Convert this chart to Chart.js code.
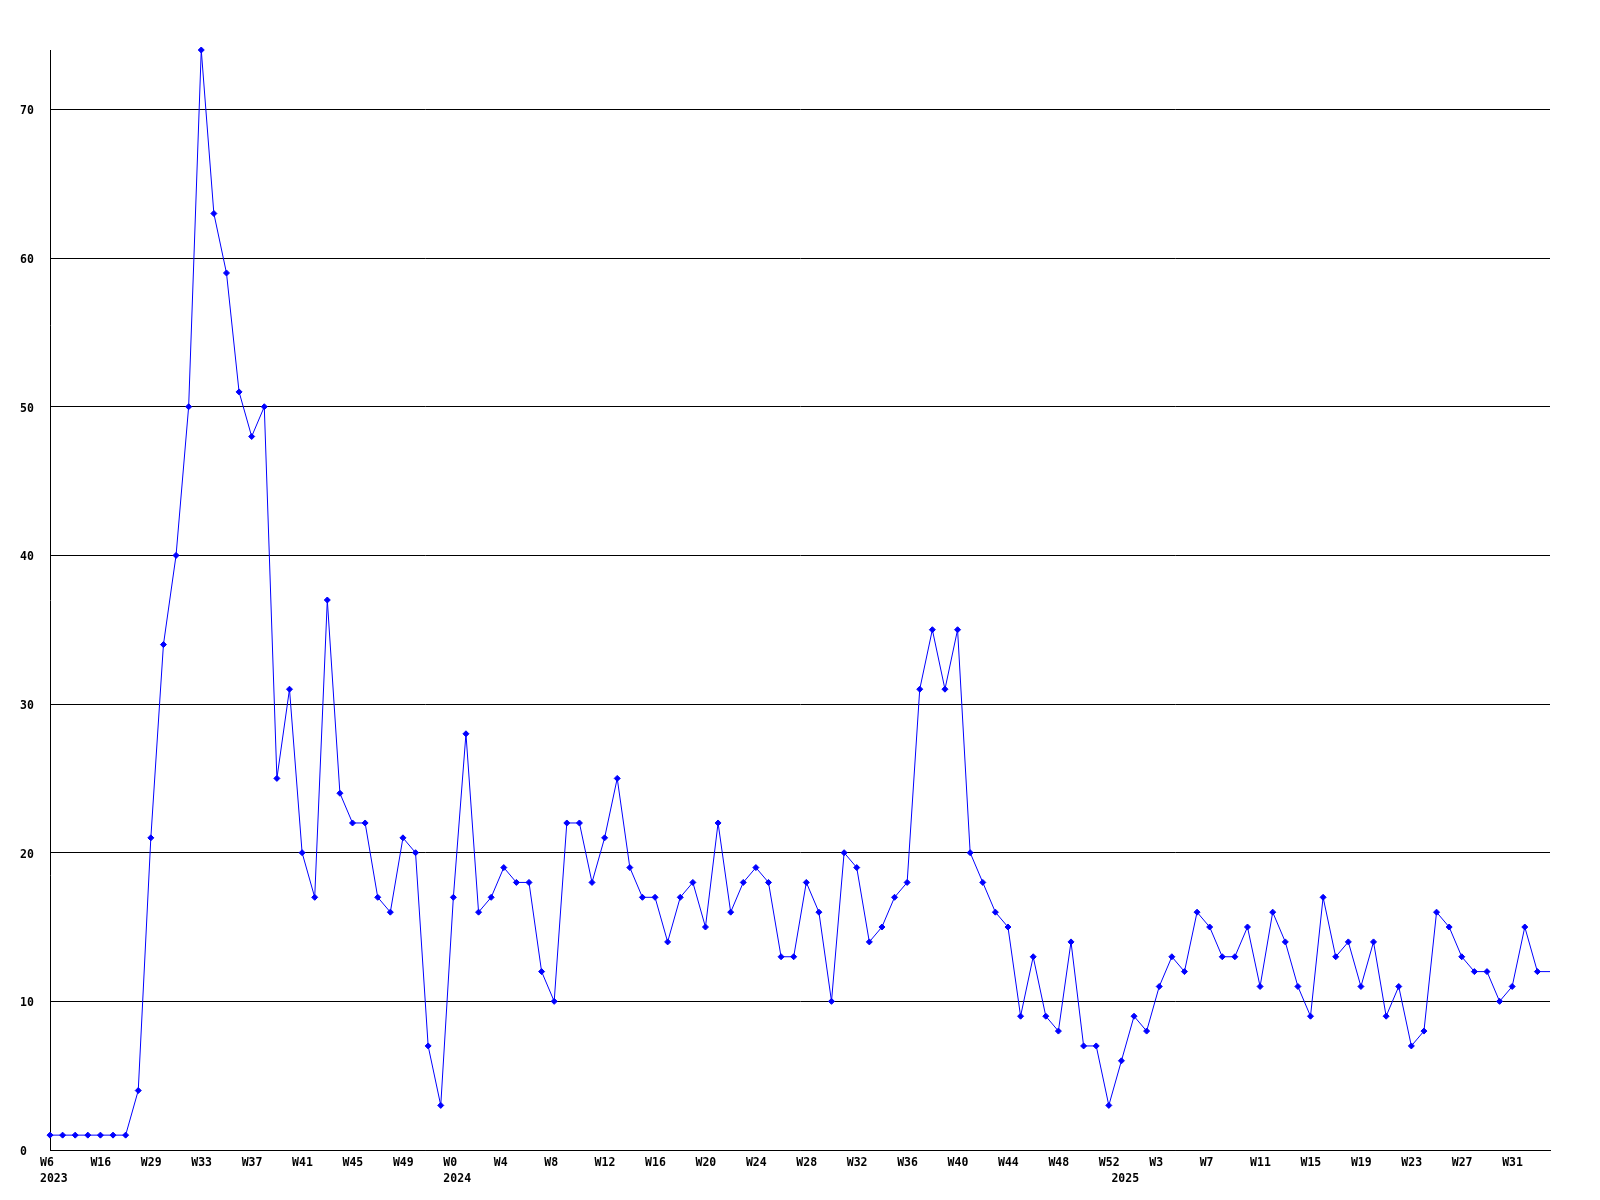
<!DOCTYPE html>
<html>
<head>
<meta charset="utf-8">
<script src="https://cdn.jsdelivr.net/npm/chart.js@4/dist/chart.umd.min.js"></script>
<style>
  html, body { margin: 0; padding: 0; background: #fff; }
  #chart { display: block; }
</style>
</head>
<body>
<canvas id="chart" width="1600" height="1200"></canvas>
<script>
// week labels, one per point
const weeks2023 = ['W6', 'W8', 'W11', 'W13', 'W16', 'W20', 'W24', 'W28',
  'W29', 'W30', 'W31', 'W32', 'W33', 'W34', 'W35', 'W36', 'W37', 'W38', 'W39', 'W40',
  'W41', 'W42', 'W43', 'W44', 'W45', 'W46', 'W47', 'W48', 'W49', 'W50', 'W51', 'W52'];
const weeks2024 = ['W0', 'W1', 'W2', 'W3', 'W4', 'W5', 'W6', 'W7', 'W8', 'W9', 'W10',
  'W11', 'W12', 'W13', 'W14', 'W15', 'W16', 'W17', 'W18', 'W19', 'W20', 'W21', 'W22',
  'W23', 'W24', 'W25', 'W26', 'W27', 'W28', 'W29', 'W30', 'W31', 'W32', 'W33', 'W34',
  'W35', 'W36', 'W37', 'W38', 'W39', 'W40', 'W41', 'W42', 'W43', 'W44', 'W45', 'W46',
  'W47', 'W48', 'W49', 'W50', 'W51', 'W52'];
const weeks2025 = ['W0', 'W1', 'W2', 'W3', 'W4', 'W5', 'W6', 'W7', 'W8', 'W9', 'W10',
  'W11', 'W12', 'W13', 'W14', 'W15', 'W16', 'W17', 'W18', 'W19', 'W20', 'W21', 'W22',
  'W23', 'W24', 'W25', 'W26', 'W27', 'W28', 'W29', 'W30', 'W31', 'W32', 'W33', 'W34'];
const years = ['2023', '2024', '2025'];

const counts = [
  1, 1, 1, 1, 1, 1, 1, 4, 21, 34,
  40, 50, 74, 63, 59, 51, 48, 50, 25, 31,
  20, 17, 37, 24, 22, 22, 17, 16, 21, 20,
  7, 3, 17, 28, 16, 17, 19, 18, 18, 12,
  10, 22, 22, 18, 21, 25, 19, 17, 17, 14,
  17, 18, 15, 22, 16, 18, 19, 18, 13, 13,
  18, 16, 10, 20, 19, 14, 15, 17, 18, 31,
  35, 31, 35, 20, 18, 16, 15, 9, 13, 9,
  8, 14, 7, 7, 3, 6, 9, 8, 11, 13,
  12, 16, 15, 13, 13, 15, 11, 16, 14, 11,
  9, 17, 13, 14, 11, 14, 9, 11, 7, 8,
  16, 15, 13, 12, 12, 10, 11, 15, 12, 12
];

const weeks = [...weeks2023, ...weeks2024, ...weeks2025];
// index where each year starts -> year label goes under it
const yearStart = {
  0: years[0],
  [weeks2023.length]: years[1],
  [weeks2023.length + weeks2024.length]: years[2]
};

const tickFont = { family: "'DejaVu Sans Mono', monospace", size: 11.5, weight: 'bold', lineHeight: '16px' };

const xTickLabel = (value, index) => {
  const week = index % 4 === 0 ? weeks[index] : null;
  const year = yearStart[index];
  if (year) return [week || '', year];
  return week;
};

new Chart(document.getElementById('chart'), {
  type: 'line',
  data: {
    labels: weeks,
    datasets: [{
      data: counts,
      borderColor: '#0000ff',
      backgroundColor: '#0000ff',
      borderWidth: 1,
      tension: 0,
      pointStyle: 'rectRot',
      pointRadius: (ctx) => ctx.dataIndex === counts.length - 1 ? 0 : 3,
      pointBorderWidth: 1,
      clip: false
    }]
  },
  options: {
    responsive: false,
    animation: false,
    layout: { padding: { left: 20, top: 50, right: 50, bottom: 0 } },
    plugins: {
      legend: { display: false },
      tooltip: { enabled: false }
    },
    scales: {
      x: {
        type: 'category',
        offset: false,
        grid: { drawOnChartArea: false, drawTicks: false },
        border: { display: true, color: '#000', width: 1 },
        ticks: {
          autoSkip: false,
          maxRotation: 0,
          minRotation: 0,
          align: 'start',
          labelOffset: -10,
          padding: 5,
          color: '#000',
          font: tickFont,
          callback: xTickLabel
        },
        afterFit: (scale) => { scale.height = 50; }
      },
      y: {
        min: 0,
        max: 74,
        grid: { color: '#000', lineWidth: 1, drawTicks: false },
        border: { display: true, color: '#000', width: 1 },
        ticks: {
          stepSize: 10,
          crossAlign: 'far',
          padding: 0,
          labelOffset: 2,
          color: '#000',
          font: tickFont
        },
        afterBuildTicks: (scale) => {
          scale.ticks = scale.ticks.filter(t => t.value % 10 === 0);
        },
        afterFit: (scale) => { scale.width = 30; }
      }
    }
  }
});
</script>
</body>
</html>
